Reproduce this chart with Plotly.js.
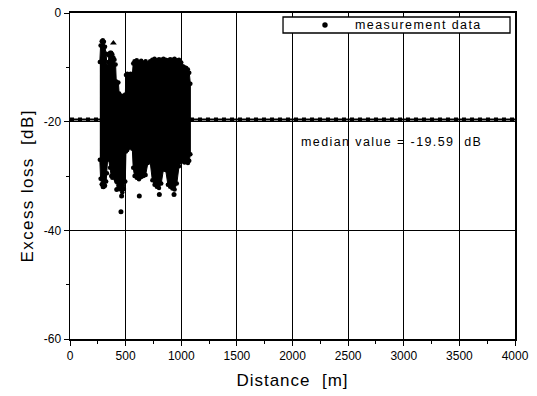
<!DOCTYPE html>
<html>
<head>
<meta charset="utf-8">
<script src="https://cdn.plot.ly/plotly-3.0.1.min.js"></script>
<style>
  html, body { margin: 0; padding: 0; background: #fff; }
  #chart { width: 537px; height: 396px; }
  .annotation-text { letter-spacing: 1.4px; }
  .xtitle { letter-spacing: 1px; }
</style>
</head>
<body>
<div id="chart"></div>
<script>
// Dense measurement cloud read as upper / lower envelope per distance [m]
const cloudDist = [268, 275, 285, 295, 305, 315, 325, 332, 338, 344, 350, 360, 370, 380, 390, 400, 410, 416, 425, 435, 442, 455, 470, 485, 497, 503, 515, 530, 545, 560, 568, 580, 600, 620, 640, 660, 680, 700, 720, 740, 760, 780, 800, 820, 840, 860, 880, 900, 920, 940, 960, 980, 1000, 1015, 1030, 1045, 1060, 1072, 1082];
const cloudUpper = [-9.0, -6.0, -5.2, -5.0, -5.3, -6.2, -7.5, -9.8, -10.0, -9.0, -7.8, -7.3, -7.3, -7.6, -8.2, -8.6, -9.5, -12.6, -12.9, -12.8, -14.8, -15.2, -15.3, -15.2, -15.0, -11.4, -11.2, -11.3, -11.2, -11.4, -9.3, -8.9, -8.7, -9.0, -8.8, -9.1, -8.9, -9.3, -8.9, -8.6, -8.4, -8.7, -8.5, -8.6, -8.4, -8.6, -8.7, -8.5, -8.6, -8.4, -8.7, -8.6, -9.1, -9.8, -10.0, -10.1, -10.4, -11.0, -13.0];
const cloudLower = [-27.0, -30.5, -31.5, -32.0, -31.5, -31.8, -31.0, -29.5, -27.0, -26.7, -26.8, -28.5, -30.0, -30.3, -30.0, -30.2, -30.6, -31.0, -31.2, -31.8, -32.2, -32.5, -33.0, -32.4, -31.0, -25.5, -25.2, -24.8, -24.6, -25.0, -28.5, -30.0, -30.3, -30.6, -30.2, -30.0, -29.8, -27.6, -27.3, -30.8, -31.6, -32.0, -32.2, -31.4, -28.8, -28.9, -31.6, -32.0, -32.3, -32.5, -31.4, -28.2, -27.4, -27.2, -27.5, -27.3, -27.6, -27.2, -26.0];

// Isolated measurement points outside the cloud
const outDist = [300, 420, 464, 458, 623, 803, 935];
const outLoss = [-32.0, -32.5, -33.7, -36.6, -33.7, -33.4, -33.4];
const strayDist = [390];
const strayLoss = [-5.5];

// Median
const medianValue = -19.59;
const medianDist = [0, 4000];

// Axes
const xTicks = [0, 500, 1000, 1500, 2000, 2500, 3000, 3500, 4000];
const xTickText = ['0', '500', '1000', '1500', '2000', '2500', '3000', '3500', '4000'];
const yTicks = [0, -20, -40, -60];
const yTickText = ['0', '-20', '-40', '-60'];

const polyX = cloudDist.concat(cloudDist.slice().reverse());
const polyY = cloudUpper.concat(cloudLower.slice().reverse());
const medianY = medianDist.map(() => medianValue);

const traces = [
  { x: medianDist, y: medianY, mode: 'lines', line: { color: '#000', width: 2 }, showlegend: false, hoverinfo: 'skip' },
  { x: medianDist, y: medianY, mode: 'lines', line: { color: '#000', width: 4, dash: 'dot' }, showlegend: false, hoverinfo: 'skip' },
  { x: polyX, y: polyY, mode: 'lines+markers', fill: 'toself', fillcolor: '#000',
    line: { color: '#000', width: 1 }, marker: { color: '#000', size: 4.5 }, showlegend: false },
  { x: outDist, y: outLoss, mode: 'markers', marker: { color: '#000', size: 5 }, showlegend: false },
  { x: strayDist, y: strayLoss, mode: 'markers', marker: { color: '#000', size: 6, symbol: 'triangle-up' }, showlegend: false }
];

const FAM = 'Liberation Sans, Arial, sans-serif';
const axisFont = { family: FAM, size: 12, color: '#000' };

const layout = {
  width: 537, height: 396,
  margin: { l: 70, r: 22, t: 13, b: 57 },
  paper_bgcolor: '#fff', plot_bgcolor: '#fff',
  showlegend: false,
  font: { family: FAM, color: '#000' },
  xaxis: {
    range: [0, 4000], tickvals: xTicks, ticktext: xTickText,
    showgrid: true, gridcolor: '#000', gridwidth: 1,
    showline: true, linecolor: '#000', linewidth: 2, mirror: true,
    ticks: 'outside', ticklen: 5, tickwidth: 1, tickcolor: '#000',
    minor: { dtick: 250, ticks: 'outside', ticklen: 3, tickwidth: 1, tickcolor: '#000', showgrid: false },
    tickfont: axisFont, zeroline: false,
    title: { text: 'Distance  [m]', font: { family: FAM, size: 17, color: '#000' }, standoff: 12 }
  },
  yaxis: {
    range: [-60, 0], tickvals: yTicks, ticktext: yTickText,
    showgrid: true, gridcolor: '#000', gridwidth: 1,
    showline: true, linecolor: '#000', linewidth: 1.5, mirror: true,
    ticks: 'outside', ticklen: 5, tickwidth: 1, tickcolor: '#000',
    minor: { dtick: 10, ticks: 'outside', ticklen: 3, tickwidth: 1, tickcolor: '#000', showgrid: false },
    tickfont: axisFont, zeroline: false
  },
  shapes: [
    { type: 'rect', xref: 'paper', yref: 'paper', x0: 0.4787, x1: 0.9888, y0: 0.9387, y1: 0.9877,
      line: { color: '#000', width: 1.3 }, fillcolor: '#fff', layer: 'above' },
    { type: 'circle', xref: 'paper', yref: 'paper', xsizemode: 'pixel', ysizemode: 'pixel',
      xanchor: 0.573, yanchor: 0.963, x0: -2.7, x1: 2.7, y0: -2.7, y1: 2.7,
      fillcolor: '#000', line: { color: '#000', width: 0 }, layer: 'above' }
  ],
  annotations: [
    { xref: 'paper', yref: 'paper', x: 0.636, y: 0.963, xanchor: 'left', yanchor: 'middle',
      text: 'measurement data', showarrow: false, font: { size: 12.5, color: '#000' } },
    { xref: 'paper', yref: 'paper', x: 0.5146, y: 0.605, xanchor: 'left', yanchor: 'middle',
      text: 'median value = -19.59  dB', showarrow: false, font: { size: 12.5, color: '#000' } },
    { xref: 'paper', yref: 'paper', x: -0.0966, y: 0.468, xanchor: 'center', yanchor: 'middle',
      textangle: -90, text: 'Excess loss  [dB]', showarrow: false,
      font: { family: FAM, size: 17, color: '#000' } }
  ]
};

Plotly.newPlot('chart', traces, layout, { staticPlot: true, displayModeBar: false });
</script>
</body>
</html>
